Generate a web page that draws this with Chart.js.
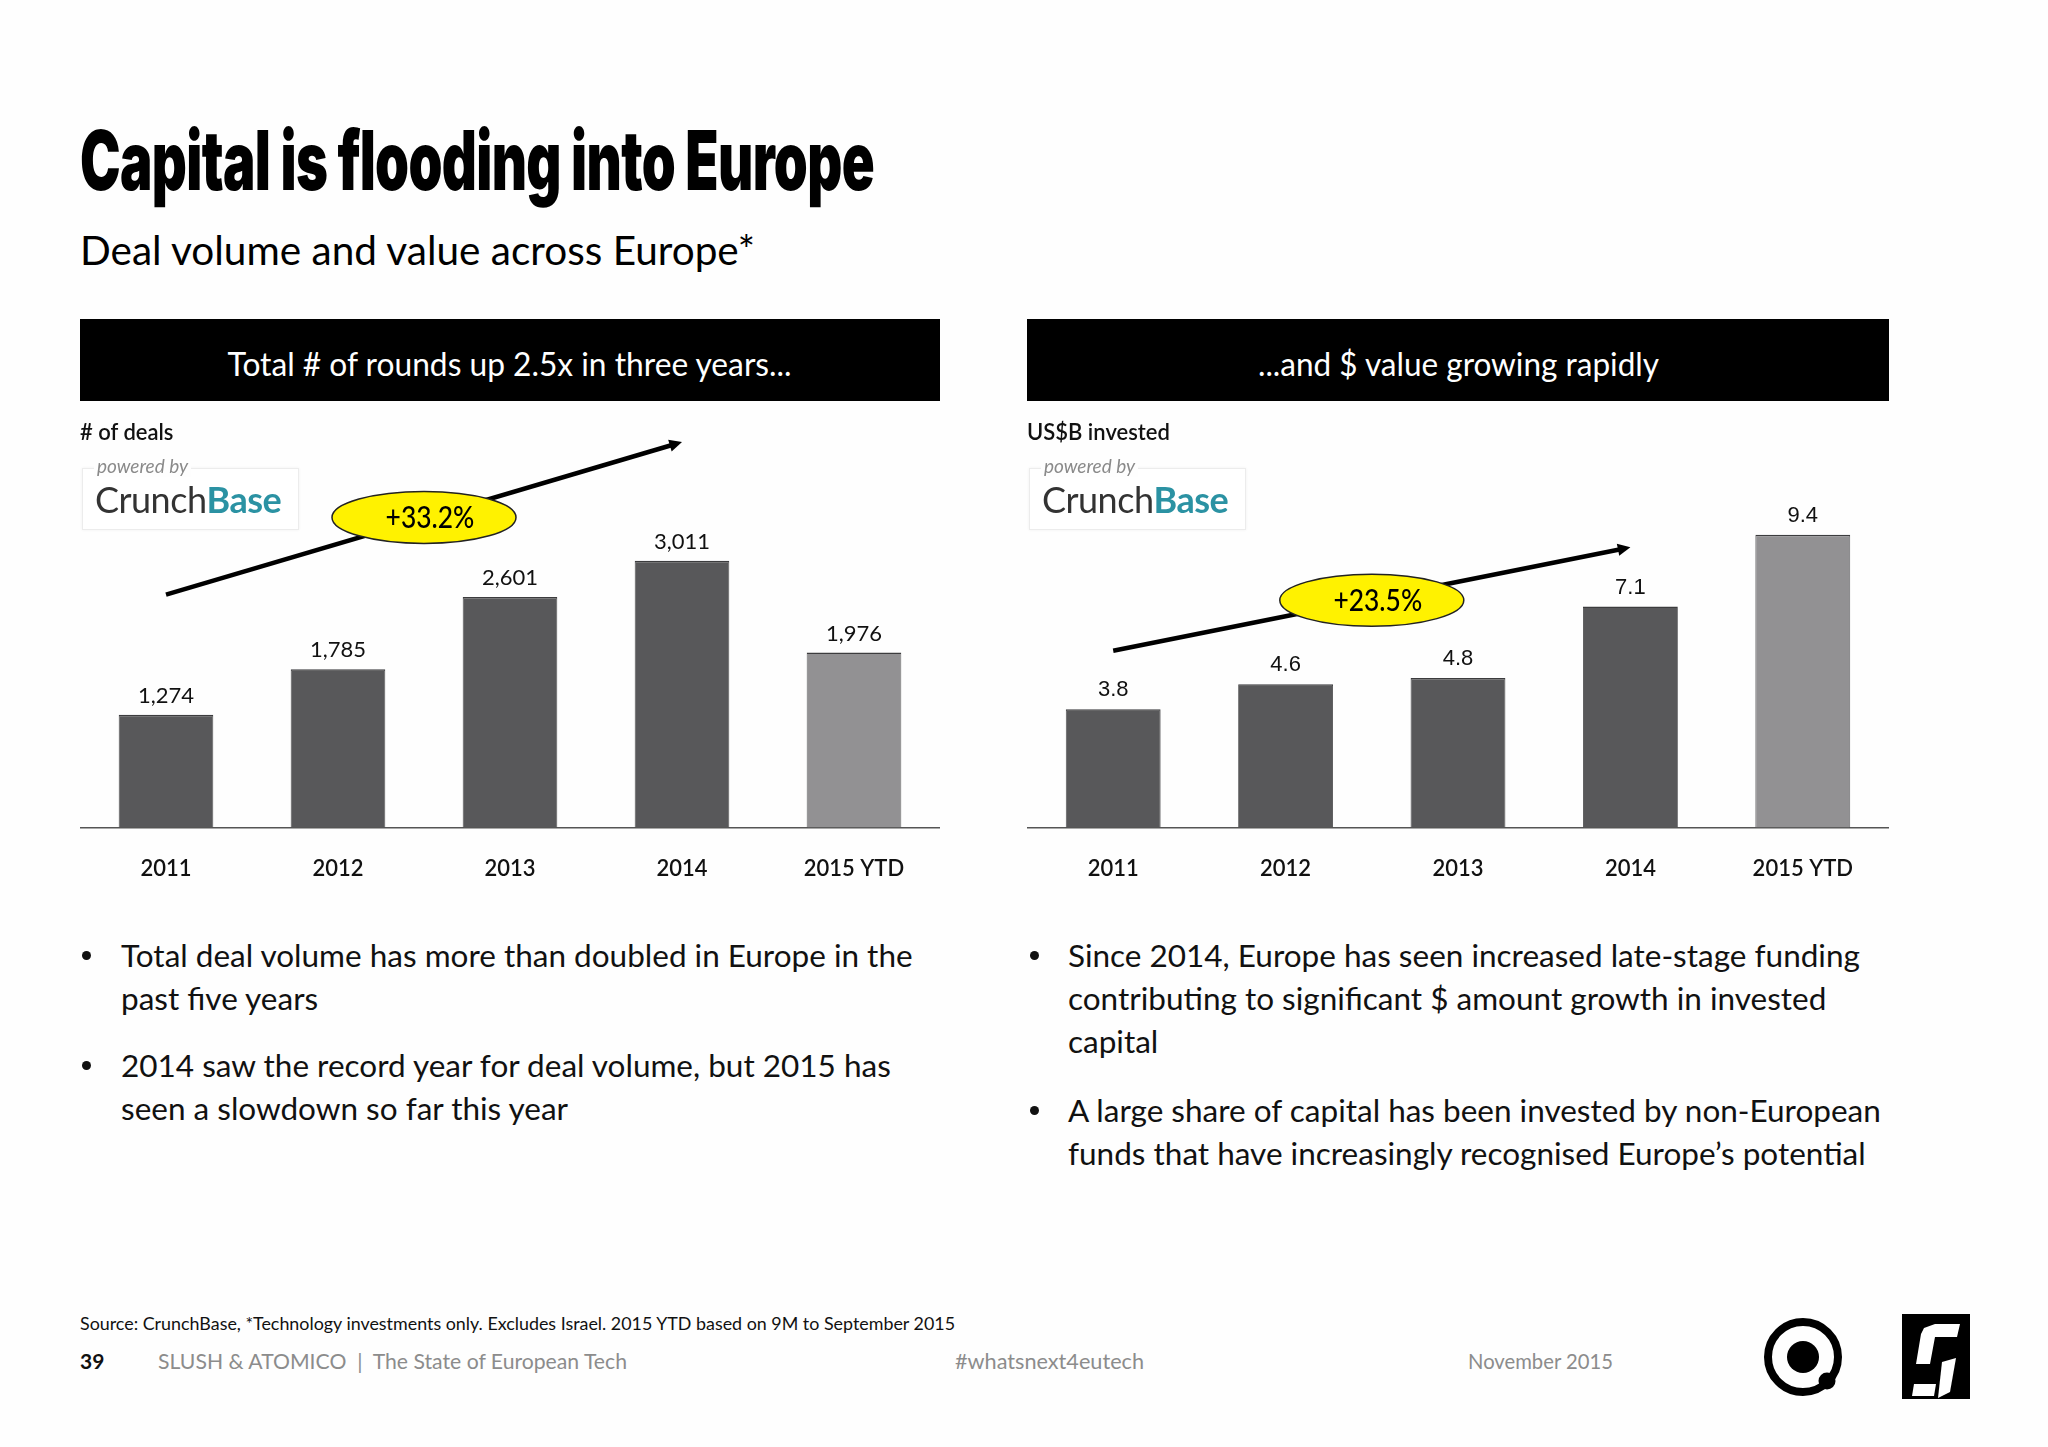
<!DOCTYPE html>
<html>
<head>
<meta charset="utf-8">
<script src="https://cdn.jsdelivr.net/npm/chart.js@4.4.1/dist/chart.umd.min.js"></script>
<style>
  html, body { margin:0; padding:0; background:#fefefe; }
  body { width:2048px; height:1447px; position:relative; overflow:hidden; font-family:Lato, "Open Sans", sans-serif; color:#111; }
  .abs { position:absolute; white-space:nowrap; }
  .fit { display:inline-block; transform-origin:left center; }
  #title { left:80px; top:120px; font-family:Inter, sans-serif; font-weight:900; font-size:82px; line-height:82px; color:#000; letter-spacing:-1px; }
  #subtitle { left:80px; top:228px; font-size:40px; line-height:44px; color:#000; }
  .hdr { position:absolute; top:319px; height:82px; background:#000; color:#fff; font-size:32px; line-height:90px; text-align:center; }
  .hdr span { display:inline-block; transform-origin:center center; line-height:40px; }
  .axlabel { font-size:22px; line-height:24px; font-weight:600; color:#111; }
  .logo { position:absolute; width:215px; height:60px; border:1px solid #ececec; box-shadow:0 0 3px rgba(0,0,0,0.06); background:#fff; }
  .powered { position:absolute; font-style:italic; font-size:19px; line-height:22px; color:#8a8a8a; background:#fefefe; padding:0 3px; }
  .cb { position:absolute; font-size:36px; line-height:40px; color:#333; letter-spacing:-0.5px; }
  .cb b { color:#2b92a3; font-weight:700; }
  canvas { position:absolute; }
  .bul { position:absolute; font-size:31.5px; line-height:43px; color:#111; }
  .dot { position:absolute; width:9px; height:9px; border-radius:50%; background:#111; }
  .foot { font-size:21px; line-height:24px; color:#8c8c8c; }
</style>
</head>
<body>
<div id="title" class="abs"><span class="fit" data-w="794">Capital is flooding into Europe</span></div>
<div id="subtitle" class="abs"><span class="fit" data-w="675">Deal volume and value across Europe*</span></div>

<div class="hdr" style="left:80px; width:860px;"><span class="fitc" data-w="564">Total # of rounds up 2.5x in three years...</span></div>
<div class="hdr" style="left:1027px; width:862px;"><span class="fitc" data-w="401">...and $ value growing rapidly</span></div>

<canvas id="c1" width="860" height="500" style="left:80px; top:410px;"></canvas>
<canvas id="c2" width="862" height="500" style="left:1027px; top:410px;"></canvas>

<div class="abs axlabel" style="left:80px; top:420px;">#&nbsp;of deals</div>
<div class="logo" style="left:82px; top:468px;"></div>
<div class="powered" style="left:94px; top:455px;">powered by</div>
<div class="cb" style="left:95px; top:479px;">Crunch<b>Base</b></div>

<div class="abs axlabel" style="left:1027px; top:420px;">US$B invested</div>
<div class="logo" style="left:1029px; top:468px;"></div>
<div class="powered" style="left:1041px; top:455px;">powered by</div>
<div class="cb" style="left:1042px; top:479px;">Crunch<b>Base</b></div>

<div class="dot" style="left:82px; top:951px;"></div>
<div class="bul" style="left:121px; top:934px;">Total deal volume has more than doubled in Europe in the<br>past five years</div>
<div class="dot" style="left:82px; top:1061px;"></div>
<div class="bul" style="left:121px; top:1044px;">2014 saw the record year for deal volume, but 2015 has<br>seen a slowdown so far this year</div>

<div class="dot" style="left:1030px; top:951px;"></div>
<div class="bul" style="left:1068px; top:934px;">Since 2014, Europe has seen increased late-stage funding<br>contributing to significant $ amount growth in invested<br>capital</div>
<div class="dot" style="left:1030px; top:1106px;"></div>
<div class="bul" style="left:1068px; top:1089px;">A large share of capital has been invested by non-European<br>funds that have increasingly recognised Europe’s potential</div>

<div class="abs" style="left:80px; top:1313px; font-size:17px; line-height:22px; color:#111;"><span class="fit" data-w="875">Source: CrunchBase, *Technology investments only. Excludes Israel. 2015 YTD based on 9M to September 2015</span></div>
<div class="abs" style="left:80px; top:1349px; font-size:21px; line-height:24px; font-weight:700; color:#111;">39</div>
<div class="abs foot" style="left:158px; top:1349px;"><span class="fit" data-w="469">SLUSH &amp; ATOMICO&nbsp;&nbsp;|&nbsp;&nbsp;The State of European Tech</span></div>
<div class="abs foot" style="left:955px; top:1349px;"><span class="fit" data-w="189">#whatsnext4eutech</span></div>
<div class="abs foot" style="left:1468px; top:1349px;"><span class="fit" data-w="145">November 2015</span></div>

<svg class="abs" style="left:1760px; top:1312px;" width="90" height="90" viewBox="0 0 90 90">
  <circle cx="43" cy="45" r="35" fill="none" stroke="#000" stroke-width="8"/>
  <circle cx="43" cy="45" r="16" fill="#000"/>
  <circle cx="67" cy="69" r="8.5" fill="#000"/>
</svg>
<svg class="abs" style="left:1902px; top:1314px;" width="68" height="85" viewBox="0 0 68 85">
  <rect x="0" y="0" width="68" height="85" fill="#000"/>
  <polygon points="22,14 33,10 58,10 55,23 33,23 28,50 14,50 19,20" fill="#fff"/>
  <polygon points="40,48 54,44 48,78 36,84" fill="#fff"/>
  <polygon points="12,70 34,70 32,82 10,82" fill="#fff"/>
</svg>

<script>
// ---------- data ----------
const categories = ['2011', '2012', '2013', '2014', '2015 YTD'];
const dealCounts = [1274, 1785, 2601, 3011, 1976];
const dealLabels = ['1,274', '1,785', '2,601', '3,011', '1,976'];
const investedUSDB = [3.8, 4.6, 4.8, 7.1, 9.4];
const investedLabels = ['3.8', '4.6', '4.8', '7.1', '9.4'];
const dealsGrowth = '+33.2%';
const investedGrowth = '+23.5%';
// arrow / callout anchors in data units: [category index, value]
const dealsArrow = [[0, 2627], [3, 4349]];
const dealsCallout = [1.5, 3499];
const investedArrow = [[0, 5.68], [3, 9.0]];
const investedCallout = [1.5, 7.3];

const barDark = '#58585a';
const barLight = '#929193';
const barColors = categories.map((c, i) => i === categories.length - 1 ? barLight : barDark);

// ---------- fit text widths ----------
document.querySelectorAll('.fit, .fitc').forEach(el => {
  const w = el.getBoundingClientRect().width;
  el.style.transform = 'scaleX(' + (parseFloat(el.dataset.w) / w) + ')';
});

// ---------- plugin ----------
const annotate = {
  id: 'annotate',
  afterDatasetsDraw(chart, args, opts) {
    const ctx = chart.ctx;
    const xs = chart.scales.x, ys = chart.scales.y;
    const meta = chart.getDatasetMeta(0);
    ctx.save();
    // value labels
    ctx.fillStyle = '#111';
    ctx.font = opts.labelFont;
    ctx.textAlign = 'center';
    ctx.textBaseline = 'bottom';
    meta.data.forEach((bar, i) => {
      ctx.fillText(opts.labels[i], bar.x, bar.y - 8);
    });
    // arrow
    const x1 = xs.getPixelForValue(opts.arrow[0][0]), y1 = ys.getPixelForValue(opts.arrow[0][1]);
    const x2 = xs.getPixelForValue(opts.arrow[1][0]), y2 = ys.getPixelForValue(opts.arrow[1][1]);
    const ang = Math.atan2(y2 - y1, x2 - x1);
    const head = 14;
    ctx.strokeStyle = '#000';
    ctx.lineWidth = 4.5;
    ctx.beginPath();
    ctx.moveTo(x1, y1);
    ctx.lineTo(x2 - Math.cos(ang) * head * 0.8, y2 - Math.sin(ang) * head * 0.8);
    ctx.stroke();
    ctx.fillStyle = '#000';
    ctx.beginPath();
    ctx.moveTo(x2, y2);
    ctx.lineTo(x2 - head * Math.cos(ang - 0.45), y2 - head * Math.sin(ang - 0.45));
    ctx.lineTo(x2 - head * Math.cos(ang + 0.45), y2 - head * Math.sin(ang + 0.45));
    ctx.closePath();
    ctx.fill();
    // callout ellipse
    const cx = xs.getPixelForValue(opts.callout[0]), cy = ys.getPixelForValue(opts.callout[1]);
    ctx.beginPath();
    ctx.ellipse(cx, cy, 92, 26, 0, 0, Math.PI * 2);
    ctx.fillStyle = '#fff200';
    ctx.fill();
    ctx.lineWidth = 1.5;
    ctx.strokeStyle = '#222';
    ctx.stroke();
    ctx.fillStyle = '#000';
    ctx.font = '500 30px Lato, sans-serif';
    ctx.textBaseline = 'middle';
    ctx.save();
    ctx.translate(cx + 6, cy + 1);
    ctx.scale(0.88, 1);
    ctx.fillText(opts.callText, 0, 0);
    ctx.restore();
    ctx.restore();
  }
};

function makeChart(id, values, yMax, padTop, opts) {
  return new Chart(document.getElementById(id), {
    type: 'bar',
    data: {
      labels: categories,
      datasets: [{
        data: values,
        backgroundColor: barColors,
        borderColor: '#3c3c3e',
        borderWidth: { top: 1.5, left: 0.8, right: 0.8, bottom: 0 },
        barPercentage: 0.55,
        categoryPercentage: 1.0
      }]
    },
    options: {
      responsive: false,
      animation: false,
      devicePixelRatio: 1,
      layout: { padding: { top: padTop, left: 0, right: 0, bottom: 0 } },
      plugins: { legend: { display: false }, tooltip: { enabled: false }, annotate: opts },
      scales: {
        x: {
          grid: { display: false, drawTicks: false },
          border: { display: true, color: '#555', width: 1.5 },
          ticks: { color: '#111', padding: 28, font: { family: 'Lato', size: 22, weight: '600', lineHeight: 1.2 } }
        },
        y: { display: false, min: 0, max: yMax }
      }
    },
    plugins: [annotate]
  });
}

makeChart('c1', dealCounts, 4000, 63, {
  labels: dealLabels, labelFont: '22px Lato, sans-serif',
  arrow: dealsArrow, callout: dealsCallout, callText: dealsGrowth
});
makeChart('c2', investedUSDB, 11, 75, {
  labels: investedLabels, labelFont: '22px "Liberation Sans", Arial, sans-serif',
  arrow: investedArrow, callout: investedCallout, callText: investedGrowth
});
</script>
</body>
</html>
